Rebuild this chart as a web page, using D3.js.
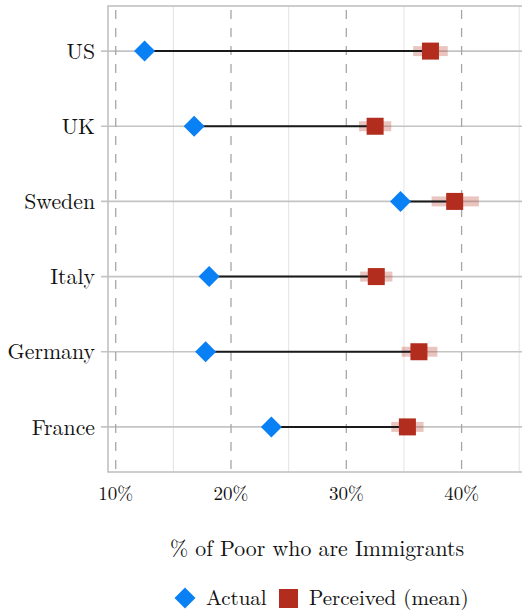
<!DOCTYPE html>
<html><head><meta charset="utf-8">
<script src="https://cdn.jsdelivr.net/npm/d3@7"></script>
<style>body{margin:0;background:#fff}svg{display:block}svg text{font-family:'Latin Modern Roman','Liberation Serif',serif;fill:#111}</style>
</head><body>
<script>
const countries = ["US","UK","Sweden","Italy","Germany","France"];
const actual = [12.5, 16.8, 34.7, 18.1, 17.8, 23.5];
const perceived = [37.3, 32.5, 39.4, 32.6, 36.3, 35.3];
const perceivedLo = [35.8, 31.1, 37.4, 31.2, 34.8, 33.9];
const perceivedHi = [38.8, 33.9, 41.5, 34.0, 37.9, 36.7];
const majorTicks = [10, 20, 30, 40];
const minorTicks = [15, 25, 35, 45];
const tickLabels = ["10%","20%","30%","40%"];
const xTitle = "% of Poor who are Immigrants";
const legendLabels = ["Actual","Perceived (mean)"];

const W = 522, H = 610;
const P = {left:108, top:6, right:522, bottom:472};
const blue = "#0a80f5", red = "#b22d1e";

const svg = d3.select("body").append("svg").attr("width", W).attr("height", H);
const x = d3.scaleLinear().domain([9.33, 45.24]).range([P.left, P.right]);
const y = d3.scalePoint().domain(countries).range([P.top, P.bottom]).padding(0.6);

const g = svg.append("g");
g.selectAll(".minor").data(minorTicks).join("line")
  .attr("x1", d=>x(d)).attr("x2", d=>x(d)).attr("y1", P.top).attr("y2", P.bottom)
  .attr("stroke", "#e3e3e3").attr("stroke-width", 1);
g.selectAll(".hl").data(countries).join("line")
  .attr("x1", P.left-7).attr("x2", P.right).attr("y1", d=>y(d)).attr("y2", d=>y(d))
  .attr("stroke", "#c4c4c4").attr("stroke-width", 1.6);
g.selectAll(".major").data(majorTicks).join("line")
  .attr("x1", d=>x(d)).attr("x2", d=>x(d)).attr("y1", P.top).attr("y2", P.bottom)
  .attr("stroke", "#a6a6a6").attr("stroke-width", 1.3).attr("stroke-dasharray", "9,9")
  .attr("stroke-dashoffset", -4);
g.append("path").attr("d", `M${P.right},${P.top}H${P.left}V${P.bottom}H${P.right}`)
  .attr("fill","none").attr("stroke","#bdbdbd").attr("stroke-width",1.5);

const data = countries.map((c,i)=>({c, a:actual[i], p:perceived[i], lo:perceivedLo[i], hi:perceivedHi[i]}));
g.selectAll(".err").data(data).join("rect")
  .attr("x", d=>x(d.lo)).attr("width", d=>x(d.hi)-x(d.lo))
  .attr("y", d=>y(d.c)-5).attr("height", 10)
  .attr("fill", "rgba(178,45,30,0.28)");
g.selectAll(".seg").data(data).join("line")
  .attr("x1", d=>x(d.a)).attr("x2", d=>x(d.p)).attr("y1", d=>y(d.c)).attr("y2", d=>y(d.c))
  .attr("stroke", "#1a1a1a").attr("stroke-width", 2);
const dS = 10.5;
g.selectAll(".dia").data(data).join("path")
  .attr("d", d=>{const cx=x(d.a), cy=y(d.c); return `M${cx},${cy-dS}L${cx+dS},${cy}L${cx},${cy+dS}L${cx-dS},${cy}Z`;})
  .attr("fill", blue);
const sq = 17;
g.selectAll(".sq").data(data).join("rect")
  .attr("x", d=>x(d.p)-sq/2).attr("y", d=>y(d.c)-sq/2).attr("width", sq).attr("height", sq)
  .attr("fill", red);

g.selectAll(".yl").data(countries).join("text")
  .attr("x", 95).attr("y", d=>y(d)).attr("dy", "0.35em").attr("text-anchor","end")
  .style("font-size", "21.8px").text(d=>d);
g.selectAll(".xl").data(majorTicks).join("text")
  .attr("x", d=>x(d)).attr("y", 500).attr("text-anchor","middle")
  .style("font-size", "19px").text((d,i)=>tickLabels[i]);
svg.append("text").attr("x", 317).attr("y", 556).attr("text-anchor","middle")
  .style("font-size", "21.8px").text(xTitle);
const ly = 598;
svg.append("path").attr("d", `M185,${ly-dS}L${185+dS},${ly}L185,${ly+dS}L${185-dS},${ly}Z`).attr("fill", blue);
svg.append("text").attr("x", 206).attr("y", ly).attr("dy","0.35em").style("font-size", "21px").text(legendLabels[0]);
svg.append("rect").attr("x", 279).attr("y", ly-9).attr("width", 19).attr("height", 19).attr("fill", red);
svg.append("text").attr("x", 309).attr("y", ly).attr("dy","0.35em").style("font-size", "21px").text(legendLabels[1]);
</script>
</body></html>
